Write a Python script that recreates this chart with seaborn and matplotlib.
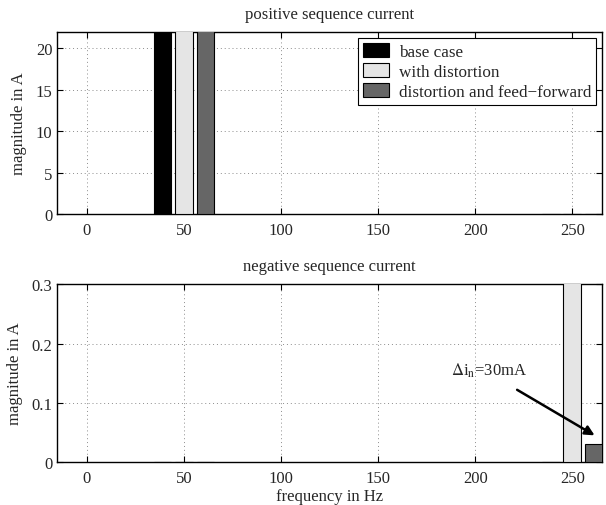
import pandas as pd
import matplotlib
matplotlib.use("Agg")
import matplotlib.pyplot as plt
import seaborn as sns

# --- data ---
cases = ["base case", "with distortion", "distortion and feed\u2212forward"]
freqs = [50, 250]
# positive sequence bars run off the top of the axis (>22 A)
pos_base = [23.0, 0.0]
pos_dist = [23.0, 0.0]
pos_ff = [23.0, 0.0]
# negative sequence
neg_base = [0.0, 0.0]
neg_dist = [0.0, 0.32]
neg_ff = [0.0, 0.03]

colors = {cases[0]: "black", cases[1]: "#e5e5e5", cases[2]: "#666666"}


def to_frame(a, b, c):
    rows = []
    for name, vals in zip(cases, [a, b, c]):
        for f, v in zip(freqs, vals):
            rows.append({"freq": f, "case": name, "mag": v})
    return pd.DataFrame(rows)


df_pos = to_frame(pos_base, pos_dist, pos_ff)
df_neg = to_frame(neg_base, neg_dist, neg_ff)

sns.set_theme(style="ticks")
plt.rcParams["font.family"] = ["Liberation Serif", "DejaVu Serif"]
plt.rcParams["mathtext.fontset"] = "stix"
plt.rcParams["font.size"] = 12
plt.rcParams["xtick.direction"] = "in"
plt.rcParams["ytick.direction"] = "in"
plt.rcParams["xtick.top"] = True
plt.rcParams["ytick.right"] = True

fig = plt.figure(figsize=(6.06, 5.06), dpi=100)
ax1 = fig.add_axes([0.0936, 0.575, 0.9004, 0.360])
ax2 = fig.add_axes([0.0936, 0.085, 0.9004, 0.352])

for ax, df, leg in [(ax1, df_pos, True), (ax2, df_neg, False)]:
    sns.barplot(data=df, x="freq", y="mag", hue="case", hue_order=cases,
                palette=colors, native_scale=True, width=0.1665, gap=0.18,
                errorbar=None, edgecolor="black", linewidth=0.8,
                legend=leg, ax=ax, zorder=3)
    ax.set_xlim(-15.5, 265.5)
    ax.set_xticks([0, 50, 100, 150, 200, 250])
    ax.set_xticklabels(["0", "50", "100", "150", "200", "250"])
    ax.grid(True, linestyle=(0, (1, 3)), color="0.55", linewidth=0.7, zorder=0)
    ax.set_axisbelow(True)
    ax.tick_params(labelsize=12, length=4, width=0.8, color="black")
    ax.tick_params(axis="y", pad=3)
    ax.tick_params(axis="x", pad=6)
    for s in ax.spines.values():
        s.set_linewidth(1.0)
        s.set_color("black")
    ax.set_ylabel("magnitude in A", fontsize=12, labelpad=6)
    ax.set_xlabel("")

ax1.set_ylim(0, 22)
ax1.set_yticks([0, 5, 10, 15, 20])
ax1.set_title("positive sequence current", fontsize=12, pad=10)
ax1.legend(loc="upper right", fontsize=12.3, frameon=True, fancybox=False,
           edgecolor="black", framealpha=1, borderpad=0.3, labelspacing=0.18,
           handlelength=1.55, handleheight=0.9, handletextpad=0.55,
           borderaxespad=0.35).get_frame().set_linewidth(0.8)

ax2.set_ylim(0, 0.301)
ax2.set_yticks([0, 0.1, 0.2, 0.3])
ax2.set_yticklabels(["0", "0.1", "0.2", "0.3"])
ax2.set_title("negative sequence current", fontsize=12, pad=10)
ax2.set_xlabel("frequency in Hz", fontsize=12, labelpad=1)
ax2.text(187.3, 0.156, r"$\Delta$i$_{\rm n}$=30mA", fontsize=12,
         ha="left", va="center")
ax2.annotate("", xy=(261.5, 0.045), xytext=(221.6, 0.122),
             arrowprops=dict(arrowstyle="-|>", color="black", lw=1.8,
                             mutation_scale=14, shrinkA=0, shrinkB=0))

fig.savefig("out.png", dpi=100)
